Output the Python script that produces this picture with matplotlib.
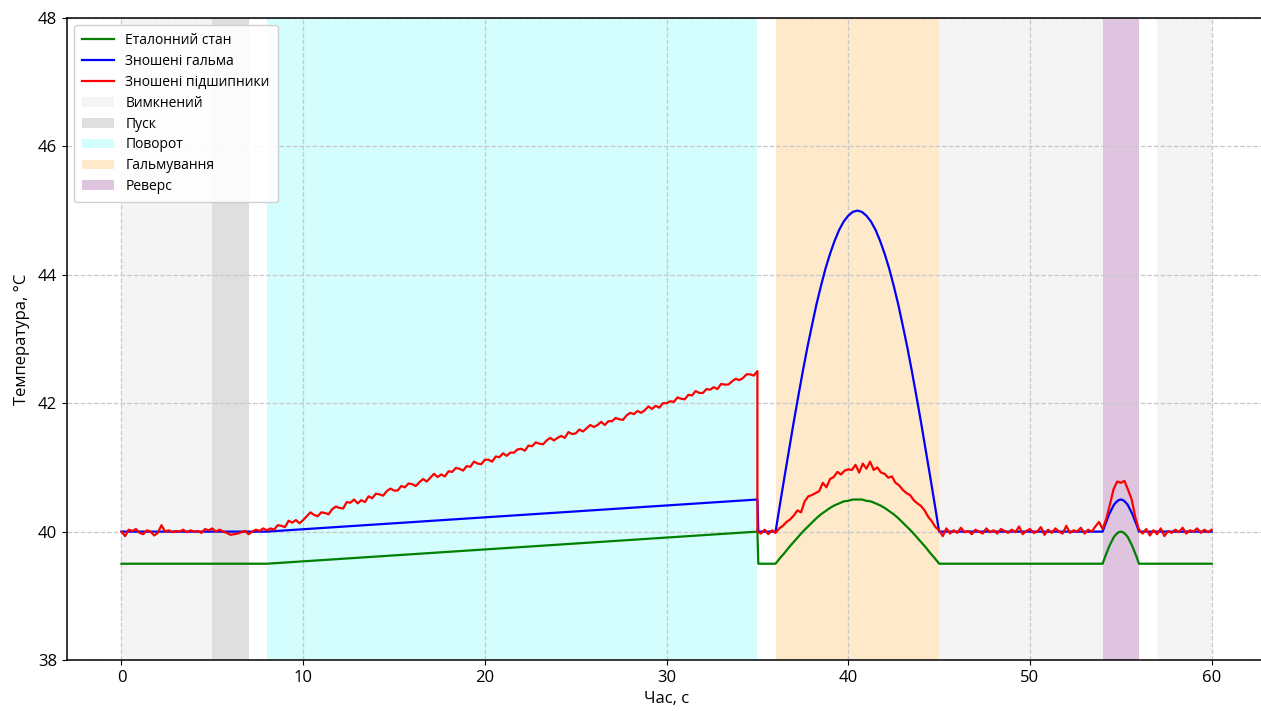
import numpy as np
import matplotlib
matplotlib.use("Agg")
import matplotlib.pyplot as plt

plt.rcParams['font.family'] = ['Open Sans', 'DejaVu Sans']

# reference state and worn brakes: piecewise, with humps during braking and reverse
base_t = [0.0, 8.0, 35.0, 35.05, 36.0]
green_base = [39.5, 39.5, 40.0, 39.5, 39.5]
blue_base = [40.0, 40.0, 40.5, 40.0, 40.0]

green_brake = [39.50, 39.59, 39.67, 39.76, 39.84, 39.92, 40.00, 40.07, 40.14, 40.21,
               40.27, 40.32, 40.37, 40.41, 40.44, 40.47, 40.48, 40.50, 40.50, 40.50,
               40.48, 40.47, 40.44, 40.41, 40.37, 40.32, 40.27, 40.21, 40.14, 40.07,
               40.00, 39.92, 39.84, 39.76, 39.67, 39.59, 39.50]
blue_brake = [40.00, 40.44, 40.87, 41.29, 41.71, 42.11, 42.50, 42.87, 43.21, 43.54,
              43.83, 44.10, 44.33, 44.53, 44.70, 44.83, 44.92, 44.98, 45.00, 44.98,
              44.92, 44.83, 44.70, 44.53, 44.33, 44.10, 43.83, 43.54, 43.21, 42.87,
              42.50, 42.11, 41.71, 41.29, 40.87, 40.44, 40.00]

green_rev = [39.50, 39.60, 39.69, 39.78, 39.85, 39.92, 39.96, 39.99, 40.00,
             39.99, 39.96, 39.92, 39.85, 39.78, 39.69, 39.60, 39.50]
blue_rev = [40.00, 40.10, 40.19, 40.28, 40.35, 40.42, 40.46, 40.49, 40.50,
            40.49, 40.46, 40.42, 40.35, 40.28, 40.19, 40.10, 40.00]

# worn bearings, sampled every 0.2 s
red_idle = [40.00, 39.93, 40.03, 40.01, 40.04, 39.98, 39.96, 40.02, 40.00, 39.94,
            39.98, 40.10, 40.00, 40.02, 39.99, 40.01, 40.00, 40.03, 39.99, 40.02,
            40.00, 40.01, 39.98, 40.04, 40.02, 40.05, 40.00, 40.03, 40.00, 39.98,
            39.95, 39.96, 39.97, 39.99, 40.01, 39.96, 40.00, 40.03, 40.01, 40.05,
            40.02]
red_turn = [40.05, 40.03, 40.10, 40.09, 40.07, 40.17, 40.14, 40.18, 40.13, 40.18,
            40.24, 40.30, 40.26, 40.24, 40.30, 40.29, 40.27, 40.35, 40.39, 40.37,
            40.36, 40.46, 40.45, 40.50, 40.44, 40.49, 40.46, 40.55, 40.52, 40.59,
            40.58, 40.56, 40.63, 40.67, 40.64, 40.64, 40.71, 40.69, 40.75, 40.74,
            40.71, 40.77, 40.82, 40.78, 40.84, 40.90, 40.85, 40.89, 40.86, 40.94,
            40.93, 40.99, 40.98, 40.95, 41.02, 41.01, 41.09, 41.06, 41.05, 41.12,
            41.12, 41.09, 41.17, 41.16, 41.22, 41.18, 41.23, 41.23, 41.28, 41.29,
            41.26, 41.34, 41.33, 41.39, 41.37, 41.36, 41.42, 41.46, 41.42, 41.46,
            41.49, 41.46, 41.55, 41.52, 41.53, 41.59, 41.56, 41.61, 41.66, 41.63,
            41.66, 41.71, 41.66, 41.72, 41.72, 41.77, 41.75, 41.74, 41.81, 41.85,
            41.83, 41.88, 41.85, 41.89, 41.95, 41.91, 41.96, 41.93, 42.00, 42.00,
            42.03, 42.02, 42.09, 42.07, 42.06, 42.13, 42.12, 42.19, 42.16, 42.16,
            42.22, 42.21, 42.25, 42.22, 42.30, 42.29, 42.29, 42.34, 42.38, 42.36,
            42.39, 42.45, 42.45, 42.43, 42.50]
red_stop = [40.00, 39.97, 40.03, 39.96, 40.02, 39.98]
red_brake = [40.05, 40.09, 40.15, 40.19, 40.25, 40.33, 40.30, 40.47, 40.55, 40.57,
             40.60, 40.63, 40.76, 40.69, 40.82, 40.85, 40.93, 40.89, 40.95, 40.97,
             40.96, 41.04, 40.92, 41.06, 40.98, 41.09, 40.96, 41.00, 40.92, 40.90,
             40.84, 40.86, 40.76, 40.72, 40.65, 40.60, 40.57, 40.49, 40.44, 40.40,
             40.33, 40.23, 40.16, 40.07, 40.02]
red_off = [39.93, 40.05, 39.97, 40.02, 39.98, 40.06, 39.99, 40.01, 39.96, 40.03,
           40.00, 39.97, 40.05, 39.99, 40.02, 39.97, 40.04, 40.01, 39.98, 40.03,
           39.99, 40.08, 39.96, 40.01, 40.04, 39.98, 40.00, 40.07, 39.95, 40.03,
           39.98, 40.05, 40.00, 39.97, 40.09, 39.98, 40.02, 40.00, 40.06, 39.97,
           40.03, 40.00, 40.08, 40.15, 40.04]
red_rev = [40.20, 40.42, 40.66, 40.78, 40.76, 40.79, 40.65, 40.50, 40.22, 40.03]
red_end = [39.97, 40.04, 39.94, 40.02, 39.96, 40.05, 39.93, 40.01, 39.98, 40.03,
           39.99, 40.06, 39.97, 40.02, 40.00, 40.05, 39.98, 40.03, 39.99, 40.03]

red_segments = [(0.0, 8.0, red_idle), (8.2, 35.0, red_turn), (35.0, 36.0, red_stop),
                (36.2, 45.0, red_brake), (45.2, 54.0, red_off), (54.2, 56.0, red_rev),
                (56.2, 60.0, red_end)]

# operating modes
modes = ["Вимкнений", "Пуск", "Поворот", "Гальмування", "Реверс"]
mode_colors = ["#f4f4f4", "#dfdfdf", "#d4fdfd", "#feeaca", "#dfc4df"]
mode_spans = [[(0, 5), (45, 54), (57, 60)], [(5, 7)], [(8, 35)], [(36, 45)], [(54, 56)]]

# assemble series
brake_t = np.linspace(36, 45, len(blue_brake))
rev_t = np.linspace(54, 56, len(blue_rev))
t_smooth = np.concatenate([base_t, brake_t, [54.0], rev_t, [60.0]])
green = np.concatenate([green_base, green_brake, [39.5], green_rev, [39.5]])
blue = np.concatenate([blue_base, blue_brake, [40.0], blue_rev, [40.0]])

red_t = np.concatenate([np.linspace(a, b, len(v)) for a, b, v in red_segments])
red = np.concatenate([v for a, b, v in red_segments])

fig = plt.figure(figsize=(12.61, 7.11), dpi=100)
ax = fig.add_axes([0.0531, 0.0717, 0.951, 0.903])

ax.plot(t_smooth, green, color="green", lw=1.6, label="Еталонний стан", zorder=3)
ax.plot(t_smooth, blue, color="blue", lw=1.6, label="Зношені гальма", zorder=3)
ax.plot(red_t, red, color="red", lw=1.6, label="Зношені підшипники", zorder=3)

for name, col, spans in zip(modes, mode_colors, mode_spans):
    for i, (a, b) in enumerate(spans):
        ax.axvspan(a, b, color=col, lw=0, zorder=0, label=name if i == 0 else None)

ax.set_xlim(-3, 63)
ax.set_ylim(38, 48)
ax.set_yticks(np.arange(38, 49, 2))
ax.set_xticks(np.arange(0, 61, 10))
ax.grid(True, ls="--", color="#c8c8c8", lw=0.9)
for line in ax.get_xgridlines() + ax.get_ygridlines():
    line.set_zorder(1)
for sp in ax.spines.values():
    sp.set_zorder(5)
    sp.set_linewidth(1.1)

ax.tick_params(labelsize=12)
ax.set_xlabel("Час, с", fontsize=12)
ax.set_ylabel("Температура, °C", fontsize=12, labelpad=6)
ax.legend(loc="upper left", fontsize=10, framealpha=0.9, borderpad=0.6,
          labelspacing=0.42, handlelength=2.3)

fig.savefig("out.png", dpi=100)
